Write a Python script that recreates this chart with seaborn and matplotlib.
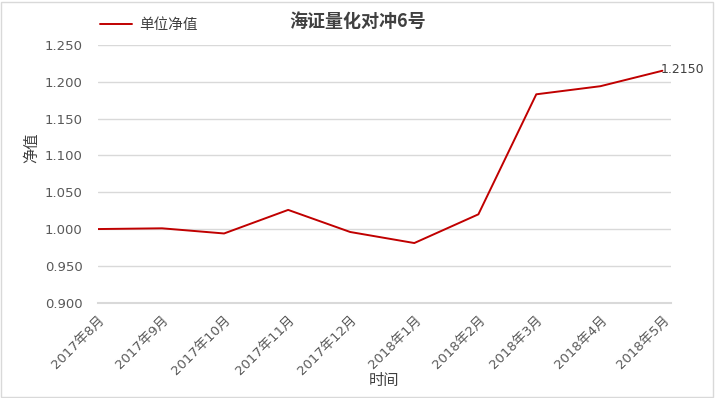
import pandas as pd
import matplotlib
matplotlib.use("Agg")
import matplotlib.pyplot as plt
from matplotlib.patches import Rectangle
import seaborn as sns

# month labels and net value per unit
months = ["2017-08-01", "2017-09-01", "2017-10-01", "2017-11-01", "2017-12-01",
          "2018-01-01", "2018-02-01", "2018-03-01", "2018-04-01", "2018-05-01"]
labels = ["2017年8月", "2017年9月", "2017年10月", "2017年11月", "2017年12月",
          "2018年1月", "2018年2月", "2018年3月", "2018年4月", "2018年5月"]
nav = [1.000, 1.001, 0.994, 1.026, 0.996, 0.981, 1.020, 1.183, 1.194, 1.215]

df = pd.DataFrame({"date": pd.to_datetime(months), "nav": nav})

sns.set_style("white")
plt.rcParams["font.family"] = ["DejaVu Sans", "Noto Sans CJK SC"]
cjk = ["Noto Sans CJK SC", "DejaVu Sans"]

fig = plt.figure(figsize=(7.15, 3.98), dpi=100)
ax = fig.add_axes([0.137, 0.2395, 0.801, 0.6475])

sns.lineplot(data=df, x="date", y="nav", ax=ax, color="#C00000", linewidth=1.4,
             label="单位净值")

ax.set_ylim(0.9, 1.25)
ax.set_yticks([0.9, 0.95, 1.0, 1.05, 1.1, 1.15, 1.2, 1.25])
ax.yaxis.set_major_formatter(matplotlib.ticker.FormatStrFormatter("%.3f"))
ax.set_xlim(df["date"].iloc[0], df["date"].iloc[-1] + pd.Timedelta(days=4))
ax.set_xticks(df["date"])
ax.set_xticklabels(labels, rotation=45, ha="right", rotation_mode="anchor")

ax.grid(axis="y", color="#d9d9d9", linewidth=1)
for s in ["left", "right", "top"]:
    ax.spines[s].set_visible(False)
ax.spines["bottom"].set_color("#d9d9d9")
ax.spines["bottom"].set_linewidth(1.5)
ax.tick_params(axis="x", length=5, width=1.5, color="#d9d9d9", labelsize=9.5,
               labelcolor="#595959", pad=3)
ax.tick_params(axis="y", length=0, labelsize=9.5, labelcolor="#595959", pad=11)

ax.set_xlabel("时间", fontsize=11, color="#404040", family=cjk)
ax.xaxis.set_label_coords(0.5, -0.27)
ax.set_ylabel("净值", fontsize=11, color="#404040", family=cjk)
ax.yaxis.set_label_coords(-0.1, 0.6)

last = df.iloc[-1]
ax.annotate(f"{last['nav']:.4f}", (last["date"], last["nav"]), xytext=(-1, 1),
            textcoords="offset points", fontsize=9, color="#404040",
            va="center", ha="left", annotation_clip=False)

leg = ax.legend(loc="upper left", bbox_to_anchor=(-0.02, 1.155), frameon=False,
                prop={"family": cjk, "size": 10.5}, handlelength=2.2,
                handletextpad=0.5)
for t in leg.get_texts():
    t.set_color("#404040")

fig.text(0.5, 0.945, "海证量化对冲6号", ha="center", va="center", fontsize=13,
         fontweight="bold", color="#404040", family=cjk)

fig.patches.append(Rectangle((0.002, 0.003), 0.995, 0.993, transform=fig.transFigure,
                             fill=False, edgecolor="#d9d9d9", linewidth=1))

fig.savefig("out.png", dpi=100)
